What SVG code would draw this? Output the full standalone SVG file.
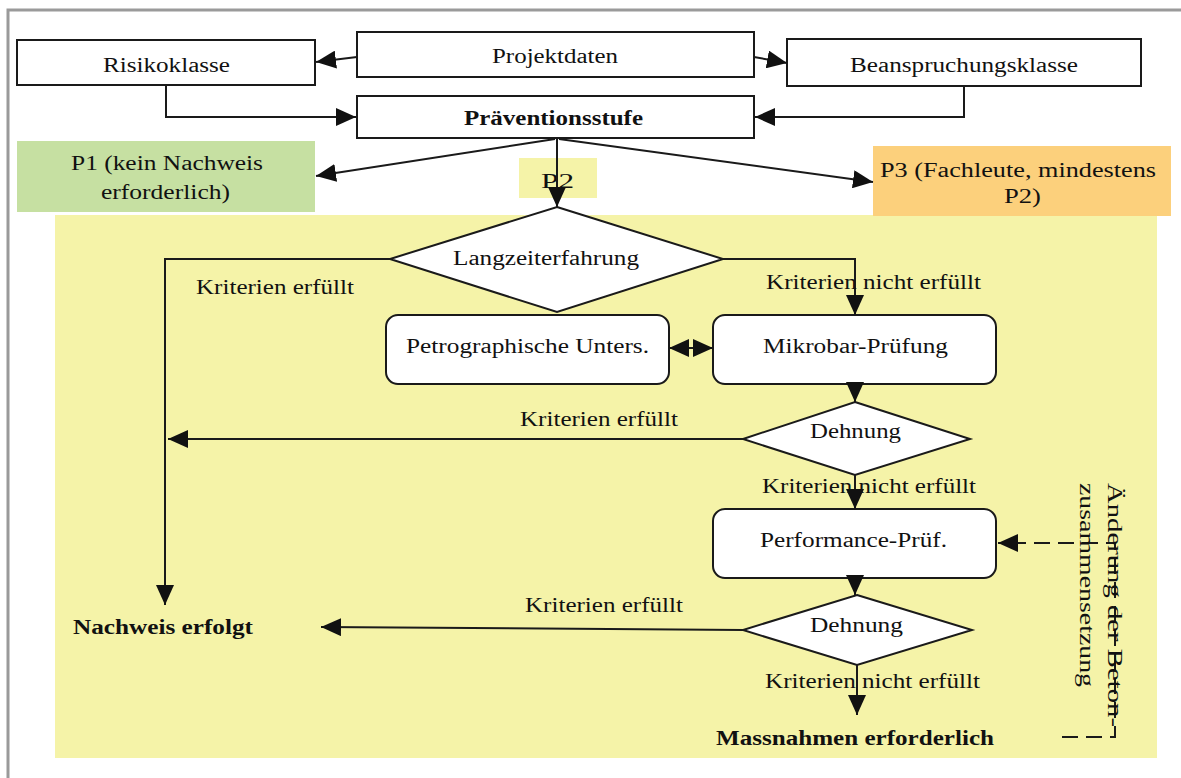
<svg xmlns="http://www.w3.org/2000/svg" width="1181" height="778" viewBox="0 0 1181 778">
<style>
text{font-family:"Liberation Serif","Times New Roman",serif;font-size:20px;fill:#111}
.b{font-weight:bold}
.box{fill:#fff;stroke:#1a1a1a;stroke-width:2}
.ln{fill:none;stroke:#1a1a1a;stroke-width:2}
.arr{marker-end:url(#ah)}
.dash{stroke-dasharray:16 8}
</style>
<defs>
<marker id="ah" markerUnits="userSpaceOnUse" markerWidth="20" markerHeight="18" viewBox="0 0 20 18" refX="20" refY="9" orient="auto-start-reverse">
<path d="M0,0 L20,9 L0,18 z" fill="#111"/>
</marker>
</defs>
<rect width="1181" height="778" fill="#fff"/>
<path d="M8,778 V10 H1181" fill="none" stroke="#9a9a9a" stroke-width="3"/>
<rect id="panel" x="55" y="215" width="1102" height="543" fill="#f5f3a8"/>

<g id="risikoklasse"><rect class="box" x="17" y="40" width="298" height="45"/><text x="103" y="72" textLength="127" lengthAdjust="spacingAndGlyphs">Risikoklasse</text></g>
<g id="projektdaten"><rect class="box" x="357" y="32" width="397" height="45"/><text x="492" y="63" textLength="126" lengthAdjust="spacingAndGlyphs">Projektdaten</text></g>
<g id="beanspruchungsklasse"><rect class="box" x="787" y="39" width="354" height="47"/><text x="850" y="72" textLength="228" lengthAdjust="spacingAndGlyphs">Beanspruchungsklasse</text></g>
<g id="praeventionsstufe"><rect class="box" x="357" y="96" width="397" height="42"/><text class="b" x="464" y="125" textLength="179" lengthAdjust="spacingAndGlyphs">Präventionsstufe</text></g>
<g id="p1"><rect x="17" y="141" width="298" height="71" fill="#c6e0a2"/><text x="71" y="170" textLength="192" lengthAdjust="spacingAndGlyphs">P1 (kein Nachweis</text><text x="101" y="199" textLength="129" lengthAdjust="spacingAndGlyphs">erforderlich)</text></g>
<g id="p2"><rect x="519" y="158" width="78" height="40" fill="#f5f3a8"/><text x="541" y="188" textLength="33" lengthAdjust="spacingAndGlyphs">P2</text></g>
<g id="p3"><rect x="873" y="146" width="298" height="70" fill="#fcd07c"/><text x="880" y="177" textLength="276" lengthAdjust="spacingAndGlyphs">P3 (Fachleute, mindestens</text><text x="1004" y="203" textLength="37" lengthAdjust="spacingAndGlyphs">P2)</text></g>

<g id="langzeiterfahrung"><path class="box" d="M557,207 L723,259 L557,312 L390,259 z"/><text x="453" y="265" textLength="186" lengthAdjust="spacingAndGlyphs">Langzeiterfahrung</text></g>
<g id="petrographische"><rect class="box" x="386" y="315" width="283" height="69" rx="12"/><text x="406" y="353" textLength="243" lengthAdjust="spacingAndGlyphs">Petrographische Unters.</text></g>
<g id="mikrobar"><rect class="box" x="713" y="315" width="283" height="69" rx="12"/><text x="763" y="353" textLength="185" lengthAdjust="spacingAndGlyphs">Mikrobar-Prüfung</text></g>
<g id="dehnung1"><path class="box" d="M855,402 L970,439 L855,475 L743,439 z"/><text x="810" y="438" textLength="91" lengthAdjust="spacingAndGlyphs">Dehnung</text></g>
<g id="performance"><rect class="box" x="713" y="509" width="283" height="69" rx="12"/><text x="760" y="547" textLength="187" lengthAdjust="spacingAndGlyphs">Performance-Prüf.</text></g>
<g id="dehnung2"><path class="box" d="M857,595 L972,630 L857,665 L743,630 z"/><text x="810" y="632" textLength="93" lengthAdjust="spacingAndGlyphs">Dehnung</text></g>
<g id="nachweis"><text class="b" x="73" y="634" textLength="180" lengthAdjust="spacingAndGlyphs">Nachweis erfolgt</text></g>
<g id="massnahmen"><text class="b" x="716" y="745" textLength="278" lengthAdjust="spacingAndGlyphs">Massnahmen erforderlich</text></g>

<g id="connectors">
<path class="ln arr" d="M357,57 L316,62"/>
<path class="ln arr" d="M754,57 L787,63"/>
<path class="ln arr" d="M166,85 V117 H356"/>
<path class="ln arr" d="M964,86 V117 H755"/>
<path class="ln arr" d="M555,139 L316,176"/>
<path class="ln arr" d="M557,139 V207"/>
<path class="ln arr" d="M559,139 L873,182"/>
<path class="ln arr" d="M390,259 H165 V605"/>
<path class="ln arr" d="M723,259 H855 V315"/>
<path class="ln" d="M669,348 H713" marker-start="url(#ah)" marker-end="url(#ah)"/>
<path class="ln arr" d="M855,384 V402"/>
<path class="ln arr" d="M743,439 H168"/>
<path class="ln arr" d="M855,475 V509"/>
<path class="ln arr" d="M855,578 V595"/>
<path class="ln arr" d="M743,630 L321,627"/>
<path class="ln arr" d="M857,665 V715"/>
<path class="ln arr dash" d="M1062,737 H1115 V543 H998"/>
</g>

<g id="labels">
<text x="196" y="294" textLength="158" lengthAdjust="spacingAndGlyphs">Kriterien erfüllt</text>
<text x="766" y="289" textLength="215" lengthAdjust="spacingAndGlyphs">Kriterien nicht erfüllt</text>
<text x="520" y="426" textLength="158" lengthAdjust="spacingAndGlyphs">Kriterien erfüllt</text>
<text x="762" y="493" textLength="214" lengthAdjust="spacingAndGlyphs">Kriterien nicht erfüllt</text>
<text x="525" y="612" textLength="158" lengthAdjust="spacingAndGlyphs">Kriterien erfüllt</text>
<text x="765" y="688" textLength="215" lengthAdjust="spacingAndGlyphs">Kriterien nicht erfüllt</text>
<text transform="translate(1108,483) rotate(90)" x="0" y="0" textLength="244" lengthAdjust="spacingAndGlyphs">Änderung der Beton-</text>
<text transform="translate(1080,483) rotate(90)" x="0" y="0" textLength="204" lengthAdjust="spacingAndGlyphs">zusammensetzung</text>
</g>
</svg>
